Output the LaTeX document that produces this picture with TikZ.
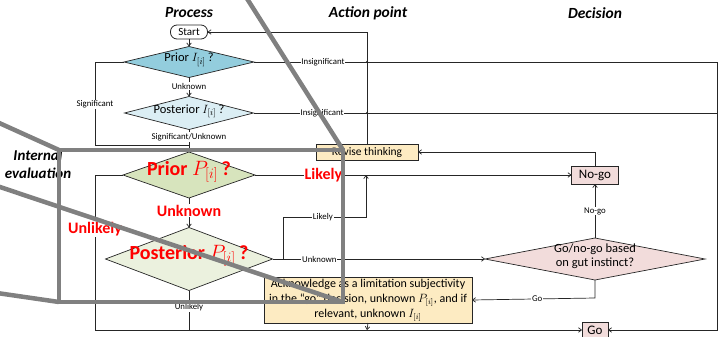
\documentclass[tikz,border=0pt]{standalone}
\usepackage{fontspec}
\setmainfont{Carlito}
\usetikzlibrary{shapes.geometric,arrows.meta}
\definecolor{lnc}{HTML}{262626}
\definecolor{blueA}{HTML}{93CDDD}
\definecolor{blueB}{HTML}{DBEEF4}
\definecolor{greenA}{HTML}{D7E4BD}
\definecolor{greenB}{HTML}{EBF1DE}
\definecolor{pinkA}{HTML}{F2DCDB}
\definecolor{yel}{HTML}{FDEBC2}
\definecolor{callout}{HTML}{808080}
\definecolor{redt}{HTML}{FF0000}
\newcommand{\zbox}[1]{\smash{\makebox[0pt]{#1}}}
\tikzset{
  line/.style={draw=lnc, line width=0.7pt},
  arr/.style={line, -{Straight Barb[length=3pt,width=4.5pt]}},
  dmd/.style={diamond, draw=lnc, line width=0.7pt, inner sep=0pt, outer sep=0pt},
  boxn/.style={rectangle, draw=lnc, line width=0.8pt, inner sep=0pt, outer sep=0pt},
  small/.style={font=\fontsize{8.8}{9}\selectfont, fill=white, inner sep=0.8pt},
  redlab/.style={font=\fontsize{16}{17}\selectfont\bfseries, text=redt, fill=white, inner sep=1pt},
  title/.style={font=\fontsize{15.5}{16}\selectfont\bfseries\itshape},
  gline/.style={draw=callout, line width=4.5pt}
}
\begin{document}
\begin{tikzpicture}[x=1pt,y=-1pt]
\useasboundingbox (0,0) rectangle (720,337);

% column titles
\node[title] (tproc) at (189,13) {Process};
\node[title] (tact) at (368,13) {Action point};
\node[title] (tdec) at (595,13) {Decision};
\node[title, align=center, font=\fontsize{15}{18}\selectfont\bfseries\itshape] (tint) at (38,164) {Internal\\evaluation};

% nodes
\node[boxn, rounded corners=6.5pt, minimum width=37pt, minimum height=14pt, fill=white,
      font=\fontsize{11}{11}\selectfont] (start) at (189,32) {Start};
\node[dmd, fill=blueA, minimum width=130pt, minimum height=31pt] (d1) at (189,62)
  {\zbox{\fontsize{12.5}{13}\selectfont Prior $I_{[i]}$\,?}};
\node[dmd, fill=blueB, minimum width=129pt, minimum height=33pt] (d2) at (189,113)
  {\zbox{\fontsize{12.5}{13}\selectfont Posterior $I_{[i]}$\,?}};
\node[dmd, fill=greenA, minimum width=132pt, minimum height=46pt] (d3) at (189,175)
  {\zbox{\fontsize{20}{21}\selectfont\bfseries\color{redt}Prior $P_{[i]}$\,?}};
\node[dmd, fill=greenB, minimum width=167pt, minimum height=63pt] (d4) at (189,259)
  {\zbox{\fontsize{20}{21}\selectfont\bfseries\color{redt}Posterior $P_{[i]}$\,?}};
\node[boxn, fill=yel, minimum width=102pt, minimum height=16pt,
      font=\fontsize{11.5}{12}\selectfont] (rev) at (367,152) {Revise thinking};
\node[boxn, fill=pinkA, minimum width=47pt, minimum height=18pt,
      font=\fontsize{13}{13}\selectfont] (nogo) at (595,175) {No-go};
\node[dmd, fill=pinkA, minimum width=220pt, minimum height=42pt] (gut) at (595,259)
  {\zbox{\fontsize{12.5}{16}\selectfont\begin{tabular}{@{}c@{}}Go/no-go based\\[-2pt]on gut instinct?\end{tabular}}};
\node[boxn, fill=yel, minimum width=208pt, minimum height=46pt, align=center,
      font=\fontsize{12}{15}\selectfont] (ack) at (368,300)
  {Acknowledge as a limitation subjectivity\\in the “go” decision, unknown $P_{[i]}$, and if\\relevant, unknown $I_{[i]}$};
\node[boxn, fill=pinkA, minimum width=26pt, minimum height=15pt,
      font=\fontsize{13}{13}\selectfont] (go) at (595,330) {Go};

% routing points
\coordinate (lA) at (95,62);
\coordinate (lB) at (95,145);
\coordinate (mB) at (189,145);
\coordinate (lC) at (95,175);
\coordinate (lD) at (95,330);
\coordinate (rA) at (717,62);
\coordinate (rB) at (717,330);
\coordinate (rC) at (717,113);
\coordinate (vA) at (367,32);
\coordinate (nA) at (595,152);
\coordinate (pA) at (283,259);
\coordinate (pB) at (283,217);
\coordinate (pC) at (366,217);
\coordinate (pD) at (366,175);
\coordinate (gA) at (595,298);
\coordinate (bA) at (189,330);
\coordinate (bB) at (367,330);

% connectors
\draw[arr] (start) -- (d1);
\draw[arr] (d1) -- node[small, pos=0.45]{Unknown} (d2);
\draw[line] (d1.west) -- (lA) -- node[small, pos=0.51]{Significant} (lB) -- (mB);
\draw[arr] (d2) -- (d3);
\node[small] (lsu) at (189,137) {Significant/Unknown};
\draw[arr] (d3) -- node[redlab, pos=0.43]{Unknown} (d4);
\draw[arr] (d3.west) -- (lC) -- node[redlab, pos=0.35]{Unlikely} (lD) -- (go.west);
\draw[line] (d4.south) -- node[small, pos=0.42]{Unlikely} (bA);
\draw[arr] (ack.south) -- (bB);
\draw[arr] (d1.east) -- node[small, pos=0.149]{Insignificant} (rA) -- (rB) -- (go.east);
\draw[line] (d2.east) -- node[small, pos=0.148]{Insignificant} (rC);
\draw[arr] (rev.north) -- (vA) -- (start.east);
\draw[arr] (nogo.north) -- (nA) -- (rev.east);
\draw[arr] (d3.east) -- node[redlab, pos=0.216]{Likely} (nogo.west);
\draw[arr] (d4.east) -- (pA) -- (pB) -- node[small, pos=0.48]{Likely} (pC) -- (pD);
\draw[arr] (pA) -- node[small, pos=0.18]{Unknown} (gut.west);
\draw[arr] (gut.north) -- node[small, pos=0.5]{No-go} (nogo.south);
\draw[arr] (gut.south) -- (gA) -- node[small, pos=0.47]{Go} (ack.east);

% crossing marks
\fill[lnc] (367,62) circle (1.1pt);
\fill[lnc] (367,113) circle (1.1pt);

% callout frame and projection lines
\draw[gline] (59,150) rectangle (343,302);
\draw[gline] (246,-3) -- (343,150);
\draw[gline] (-3,122) -- (59,150);
\draw[gline] (-3,186) -- (343,302);
\draw[gline] (-3,293) -- (59,302);
\end{tikzpicture}
\end{document}
